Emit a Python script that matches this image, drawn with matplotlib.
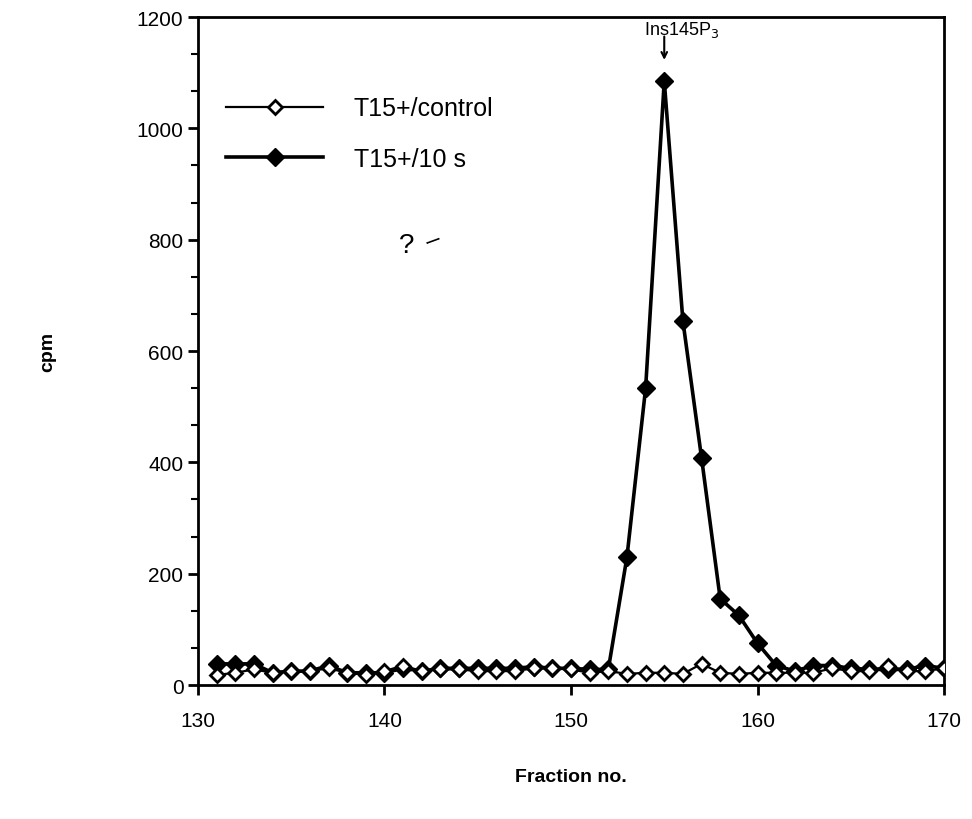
import matplotlib
matplotlib.use("Agg")
import matplotlib.pyplot as plt
from matplotlib.ticker import AutoMinorLocator, MultipleLocator

plt.rcParams['font.family'] = ['Liberation Sans', 'DejaVu Sans']

fractions = list(range(131, 171))
control = [18, 22, 28, 22, 25, 25, 30, 22, 18, 25,
           35, 25, 28, 28, 25, 25, 25, 30, 30, 28,
           22, 25, 20, 22, 22, 20, 38, 22, 20, 22,
           22, 22, 22, 30, 25, 25, 35, 25, 25, 30]
stim10s = [38, 38, 38, 22, 25, 25, 35, 22, 22, 22,
           30, 25, 30, 30, 30, 30, 30, 33, 30, 30,
           28, 28, 230, 533, 1085, 654, 408, 155, 125, 75,
           35, 25, 35, 35, 30, 28, 28, 28, 35, 30]
label_control = "T15+/control"
label_stim = "T15+/10 s"

fig = plt.figure(figsize=(9.72, 8.2), dpi=100)
ax = fig.add_axes([0.2037, 0.1634, 0.9712 - 0.2037, 0.978 - 0.1634])

ax.plot(fractions, stim10s, color='black', lw=2.6, marker='D', markersize=9,
        markerfacecolor='black', markeredgecolor='black', label=label_stim, zorder=2)
ax.plot(fractions, control, color='black', lw=1.6, marker='D', markersize=7.5,
        markerfacecolor='white', markeredgecolor='black', markeredgewidth=2,
        label=label_control, zorder=3)

ax.set_xlim(130, 170)
ax.set_ylim(0, 1200)
ax.xaxis.set_major_locator(MultipleLocator(10))
ax.yaxis.set_major_locator(MultipleLocator(200))
ax.yaxis.set_minor_locator(AutoMinorLocator(3))
ax.tick_params(axis='both', which='major', direction='out', length=7, width=2,
               labelsize=15)
ax.tick_params(axis='y', which='minor', direction='out', length=5, width=1.5)
ax.tick_params(axis='x', pad=12)
for s in ax.spines.values():
    s.set_linewidth(2)

ax.set_xlabel("Fraction no.", fontsize=14, fontweight='bold', labelpad=27)
ax.set_ylabel("cpm", fontsize=14, fontweight='bold', labelpad=58)

handles, labels = ax.get_legend_handles_labels()
ax.legend(handles[::-1], labels[::-1], loc='upper left', bbox_to_anchor=(0.008, 0.915),
          frameon=False, fontsize=18, handlelength=3.85, handletextpad=1.25,
          labelspacing=1.05, numpoints=1)

ax.annotate("", xy=(155, 1118), xytext=(155, 1170),
            arrowprops=dict(arrowstyle='->', color='black', lw=1.5))
ax.text(153.9, 1178, "Ins145P$_3$", fontsize=13, ha='left', va='center')
ax.text(141.2, 790, "?", fontsize=20, ha='center', va='center')
ax.text(142.6, 800, "–", fontsize=18, ha='center', va='center', rotation=20)

fig.savefig("out.png", dpi=100)
